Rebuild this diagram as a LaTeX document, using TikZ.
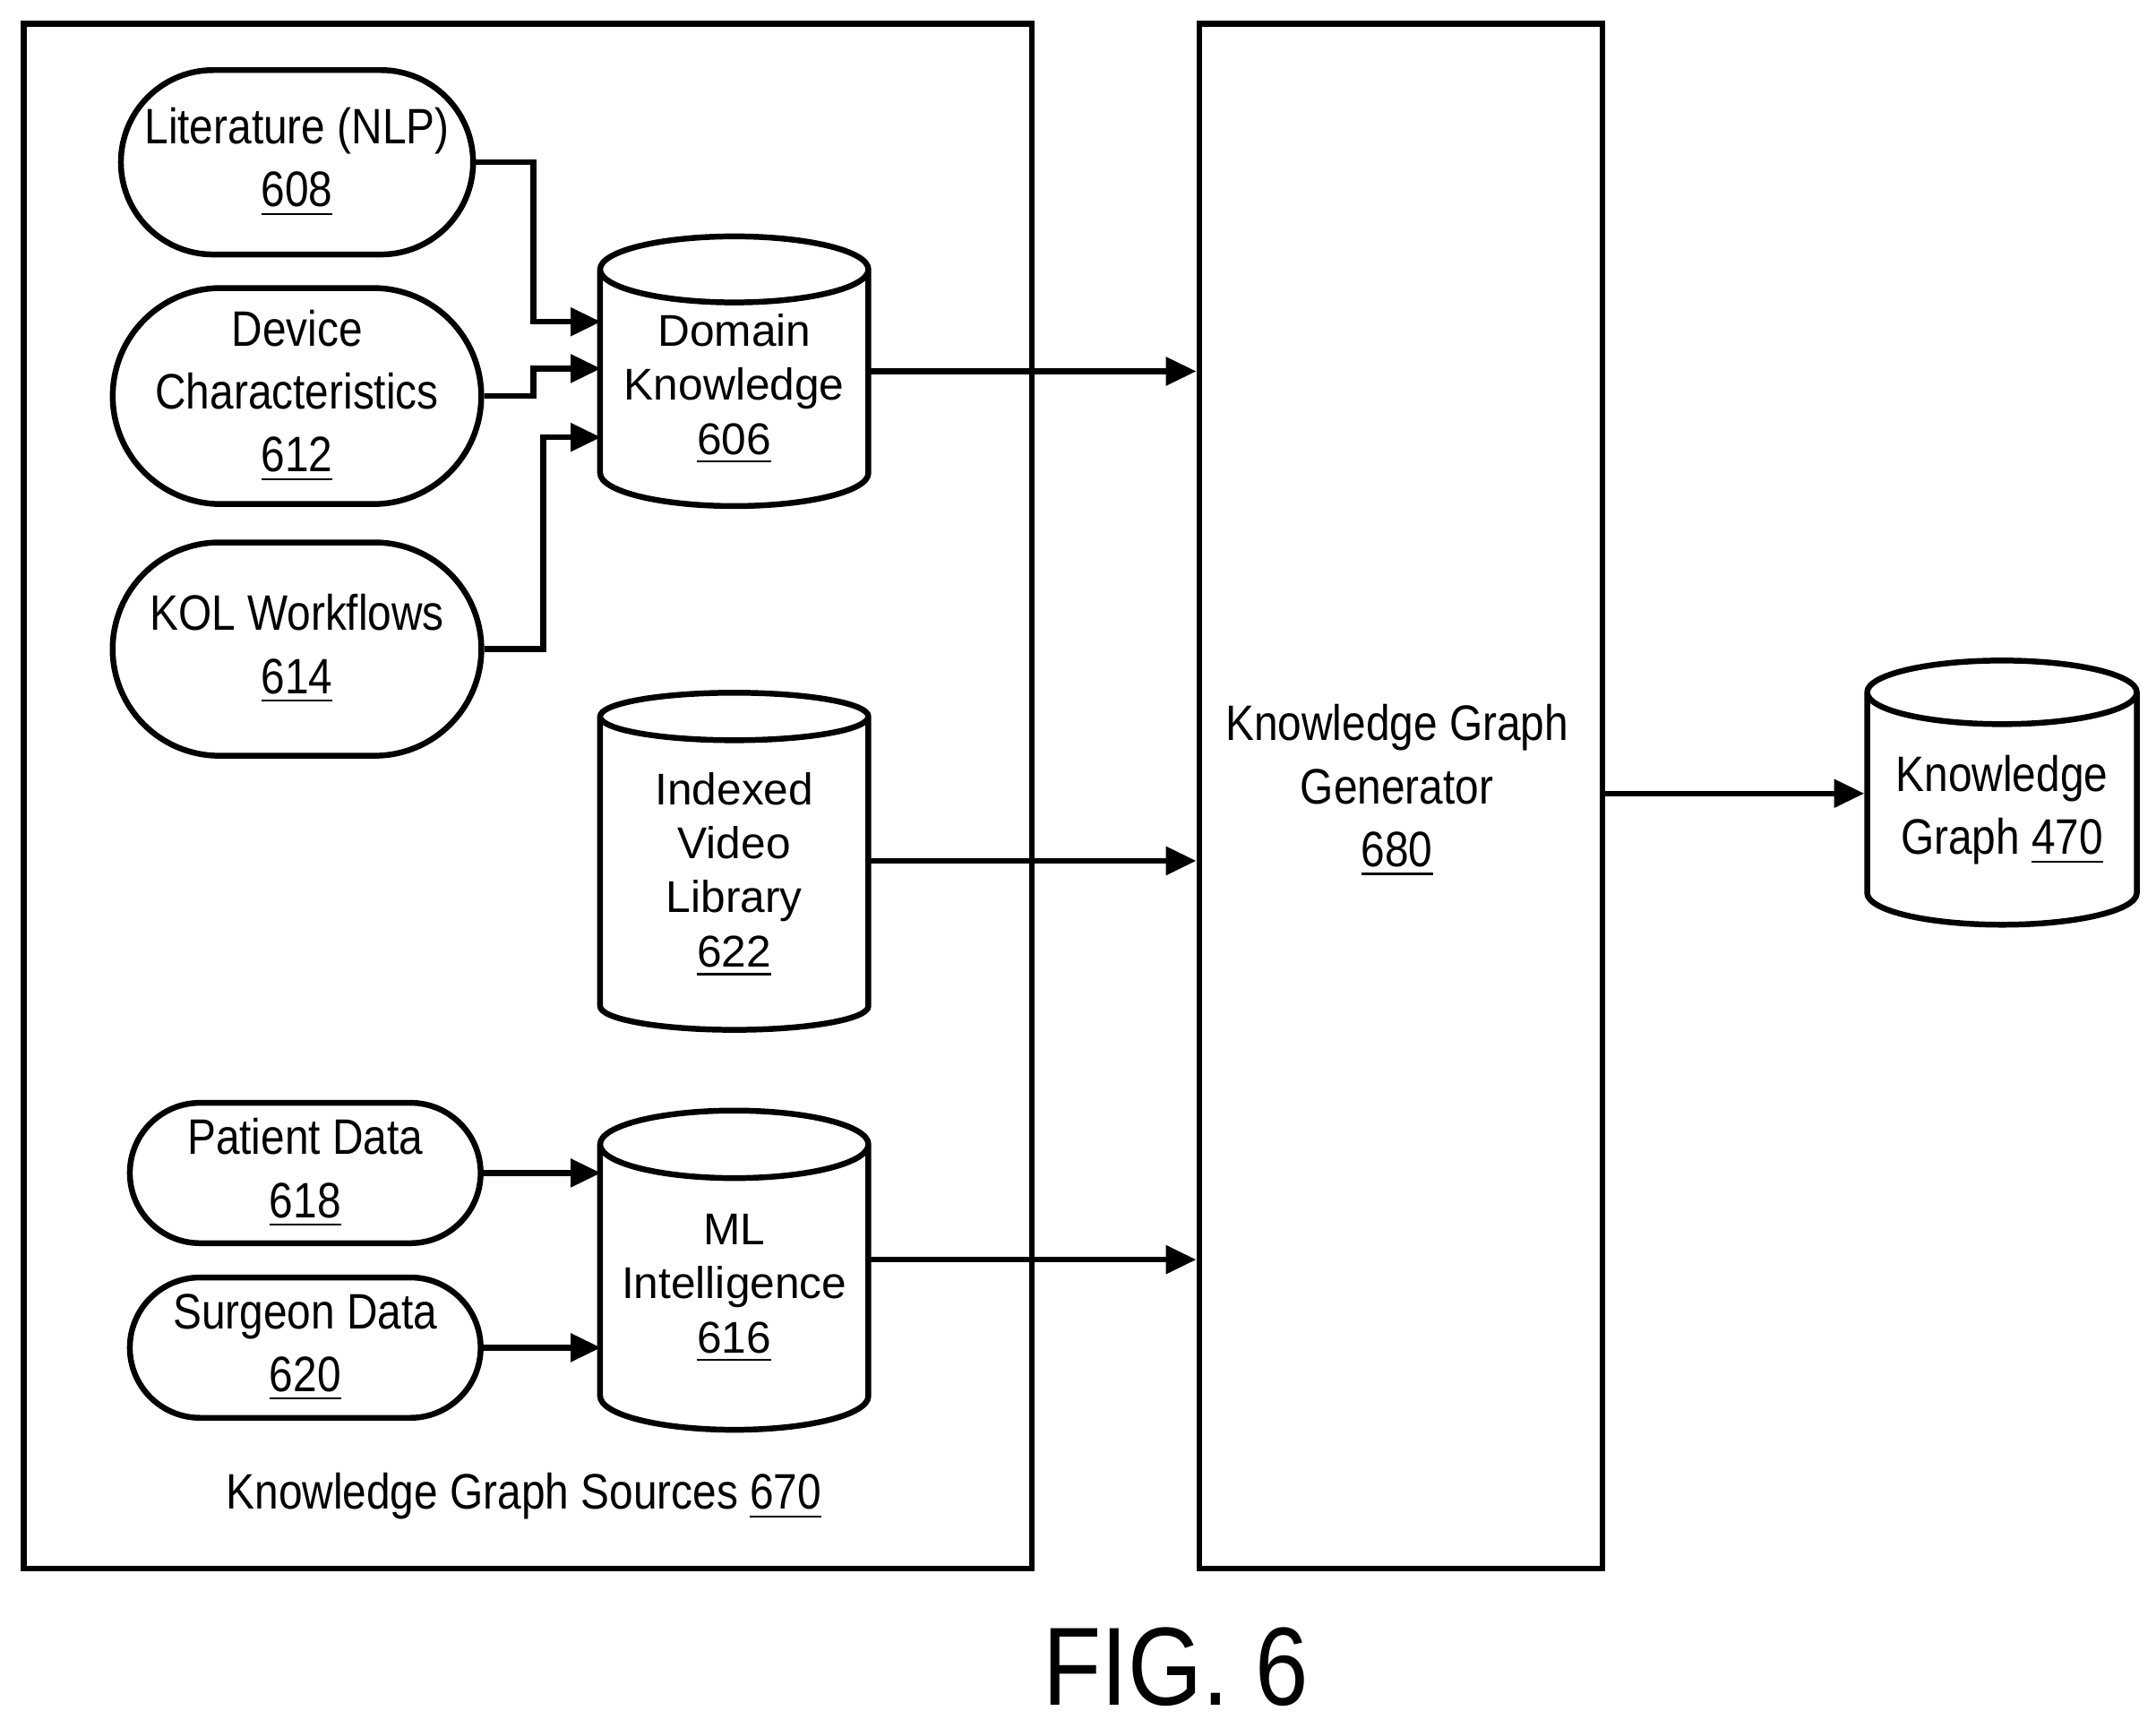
\documentclass[tikz,border=0pt]{standalone}
\usepackage{fontspec}
\setmainfont{Liberation Sans}
\newfontfamily\narrowfont[FakeStretch=0.86]{Liberation Sans}
\usetikzlibrary{shapes.geometric,shapes.misc,arrows.meta}
\newcommand{\px}{0.01cm}

\begin{document}
\begin{tikzpicture}[x=\px,y=-\px,
    src/.style={draw, line width=1.2pt, rounded rectangle, align=center, inner sep=0pt, font=\narrowfont\fontsize{10.3}{13}\selectfont},
    store/.style={draw, line width=1.2pt, cylinder, shape border rotate=90, aspect=0.3, align=center, inner sep=0pt, minimum width=1.95cm, font=\fontsize{9.2}{11.2}\selectfont},
    panel/.style={draw, line width=1.2pt, anchor=north west, inner sep=0pt},
    link/.style={line width=1.2pt, -{Triangle[length=0.22cm,width=0.2cm]}}]
    \useasboundingbox (0,0) rectangle (1568,1256);

    % Frames
    \node[panel, minimum width=7.33cm, minimum height=11.23cm] (sources) at (15,15) {};
    \node[panel, minimum width=2.93cm, minimum height=11.23cm] (generator) at (870,15) {};
    \node[align=center, font=\narrowfont\fontsize{10.3}{13}\selectfont] (gen-text) at (1016,575) {Knowledge Graph\\Generator\\\underline{680}};
    \node[font=\narrowfont\fontsize{10.3}{13}\selectfont] (sources-text) at (381,1088) {Knowledge Graph Sources \underline{670}};

    % Sources
    \node[src, minimum width=2.56cm, minimum height=1.34cm] (lit) at (216,118) {Literature (NLP)\\\underline{608}};
    \node[src, minimum width=2.57cm, minimum height=1.57cm] (dev) at (216,288) {Device\\Characteristics\\\underline{612}};
    \node[src, minimum width=2.68cm, minimum height=1.55cm] (kol) at (216,472) {KOL Workflows\\\underline{614}};
    \node[src, minimum width=2.55cm, minimum height=1.02cm] (pat) at (222,853) {Patient Data\\\underline{618}};
    \node[src, minimum width=2.55cm, minimum height=1.02cm] (sur) at (222,980) {Surgeon Data\\\underline{620}};

    % Stores
    \node[store, minimum height=1.96cm] (dom) at (534,283) {Domain\\Knowledge\\\underline{606}};
    \node[store, minimum height=2.45cm] (vid) at (534,636) {Indexed\\Video\\Library\\\underline{622}};
    \node[store, minimum height=2.32cm] (ml) at (534,937) {ML\\Intelligence\\\underline{616}};
    \node[store, minimum width=1.96cm, minimum height=1.92cm, font=\narrowfont\fontsize{10.3}{13}\selectfont] (kg) at (1456,589) {Knowledge\\Graph \underline{470}};

    % Connectors
    \draw[link] (lit.east) -| (388,234) -- (437,234);
    \draw[link] (dev.east) -| (388,268) -- (437,268);
    \draw[link] (kol.east) -| (395,318) -- (437,318);
    \draw[link] (pat.east) -- (437,853);
    \draw[link] (sur.east) -- (437,980);
    \draw[link] (632,270) -- (generator.west |- 0,270);
    \draw[link] (632,626) -- (generator.west |- 0,626);
    \draw[link] (632,916) -- (generator.west |- 0,916);
    \draw[link] (generator.east |- 0,577) -- (kg.west |- 0,577);

    \node[font=\narrowfont\fontsize{23}{26}\selectfont] (fig) at (855,1212) {FIG. 6};
\end{tikzpicture}
\end{document}
